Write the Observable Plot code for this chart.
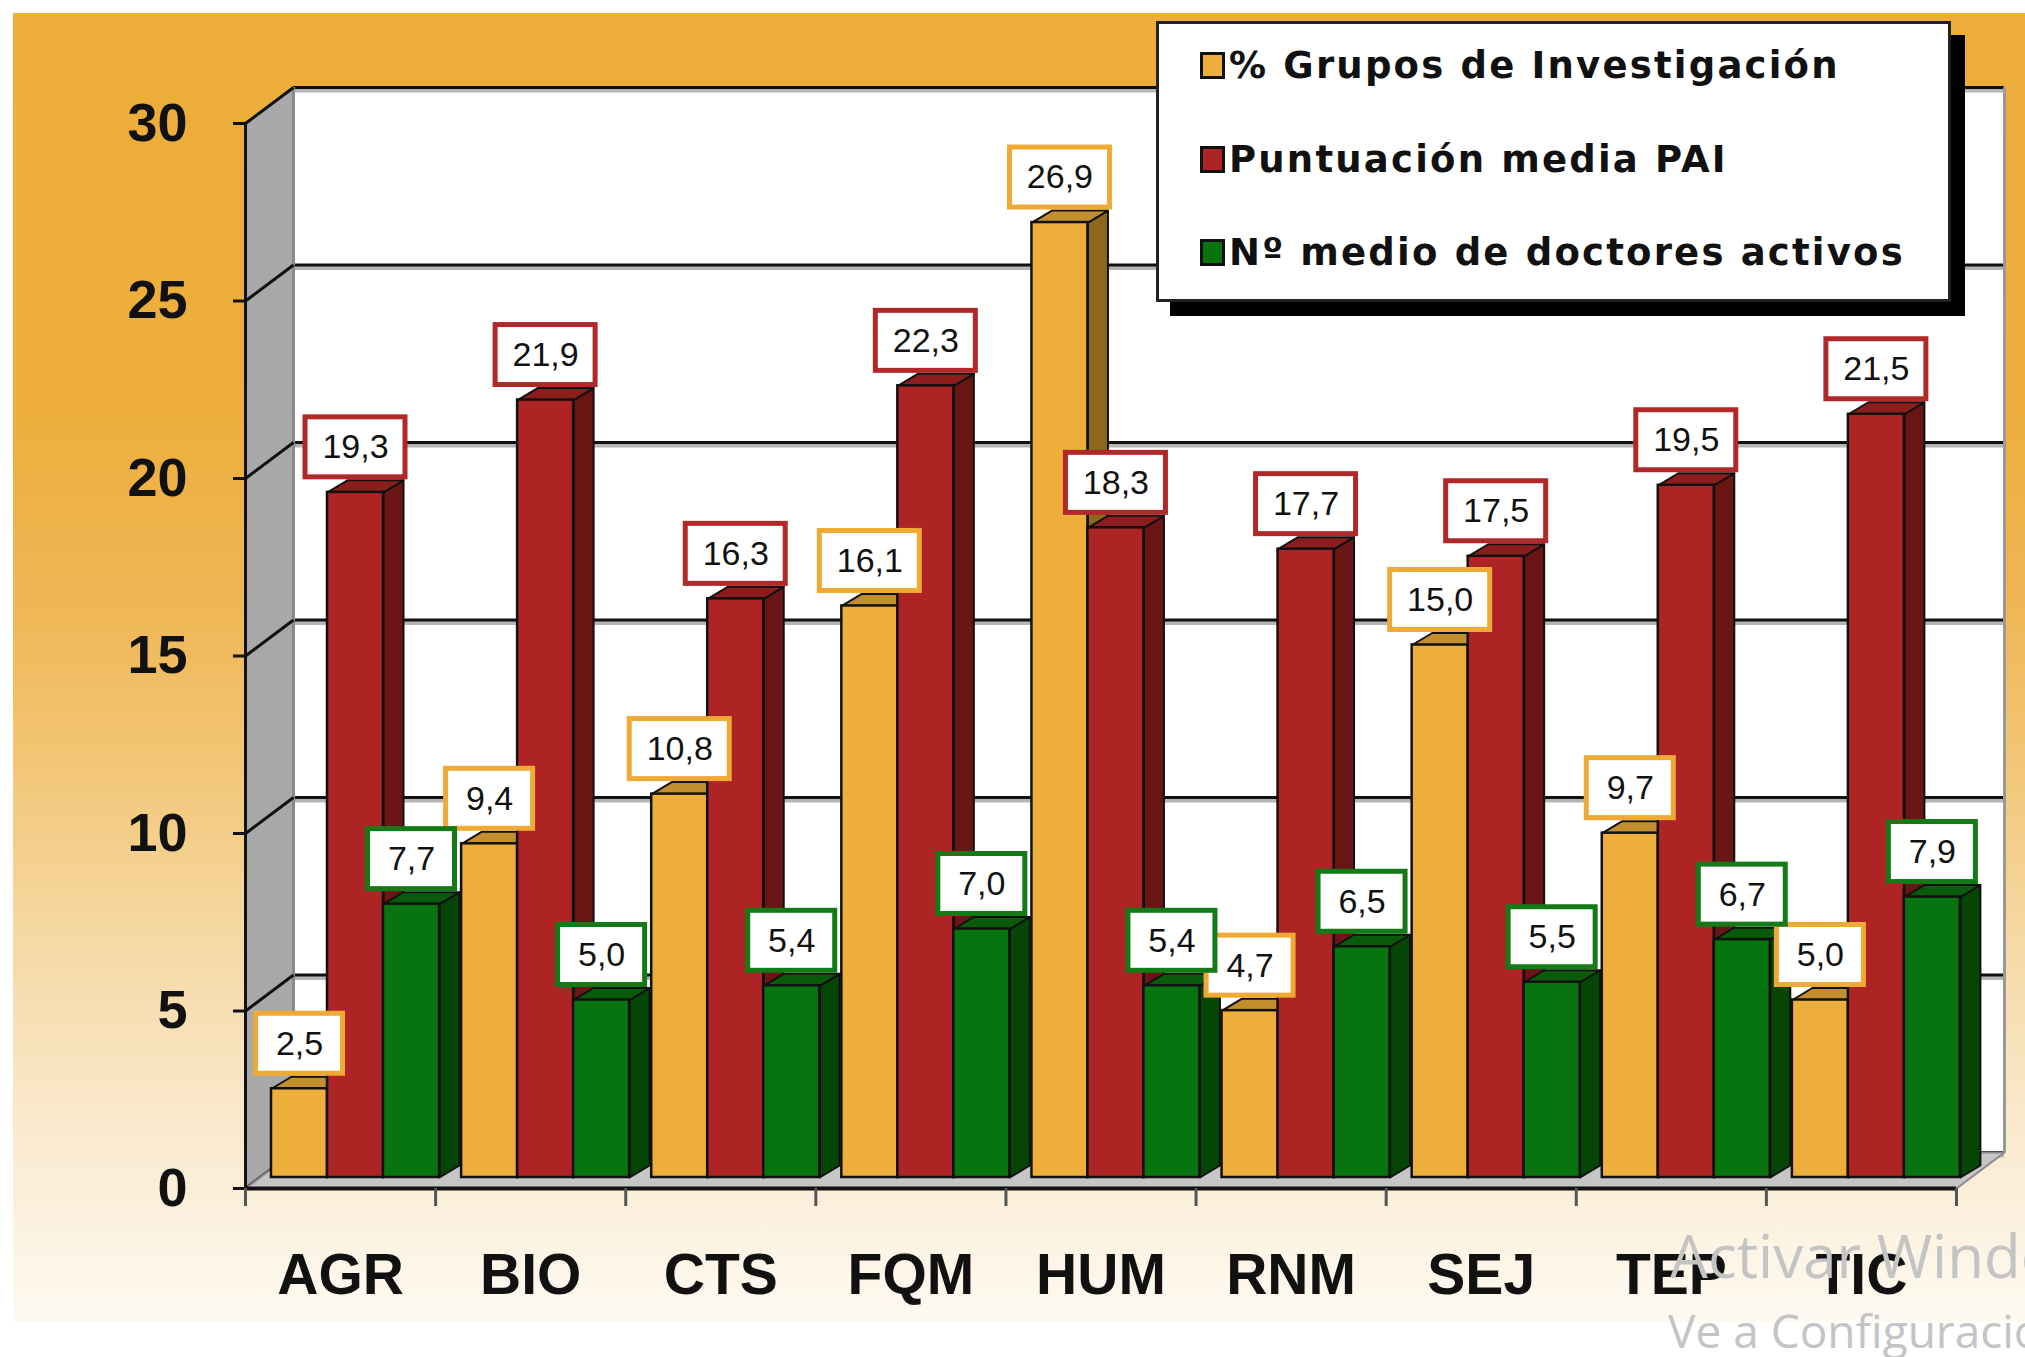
<!DOCTYPE html>
<html><head><meta charset="utf-8">
<script src="https://cdn.jsdelivr.net/npm/d3@7"></script>
<script src="https://cdn.jsdelivr.net/npm/@observablehq/plot@0.6"></script>
<style>
html,body{margin:0;padding:0;background:#fff;width:2025px;height:1357px;overflow:hidden;position:relative;}
#bg{position:absolute;left:13px;top:13px;width:2012px;height:1309px;
 background:linear-gradient(to bottom,#EDAD39 0%,#EDAE3C 30%,#EFB655 45%,#F2C36F 55%,#F5D59B 68%,#F9E7C8 83%,#FEFAF2 100%);}
#chart{position:absolute;left:0;top:0;}
#legend{position:absolute;left:1156px;top:21px;width:789px;height:275px;background:#fff;border:3px solid #222;
 box-shadow:14px 14px 0 #000;font-family:'DejaVu Sans',sans-serif;font-weight:bold;font-size:37px;letter-spacing:2.2px;color:#111;}
.row{position:absolute;left:41px;height:40px;display:flex;align-items:center;white-space:nowrap;}
.sw{width:19px;height:21px;border:3px solid #111;margin-right:4px;flex:none;}
.wm{position:absolute;white-space:nowrap;font-family:'Open Sans','Noto Sans',sans-serif;color:#c4c4c4;line-height:1;}
</style></head>
<body>
<div id="bg"></div>
<div id="chart"></div>
<div id="legend"></div>
<div class="wm" style="left:1670px;top:1225px;font-size:60px;">Activar Windows</div>
<div class="wm" style="left:1668px;top:1307px;font-size:46px;">Ve a Configuración para activar Windows.</div>
<script>
// ---- data ----
const categories = ["AGR","BIO","CTS","FQM","HUM","RNM","SEJ","TEP","TIC"];
const grupos = [2.5, 9.4, 10.8, 16.1, 26.9, 4.7, 15.0, 9.7, 5.0];
const pai = [19.3, 21.9, 16.3, 22.3, 18.3, 17.7, 17.5, 19.5, 21.5];
const doctores = [7.7, 5.0, 5.4, 7.0, 5.4, 6.5, 5.5, 6.7, 7.9];
const seriesNames = ["% Grupos de Investigación", "Puntuación media PAI", "Nº medio de doctores activos"];
const yTicks = [0, 5, 10, 15, 20, 25, 30];

// ---- styles ----
const frontC = ["#EEAE3B", "#AE2424", "#087410"];
const topC = ["#C38E2E", "#8C1D1D", "#0A5A0C"];
const sideC = ["#8E6818", "#6B1515", "#054606"];
const boxC = ["#EFA935", "#B02828", "#137A17"];

const W = 2025, H = 1357;
const mL = 245, mR = 69, mT = 123, mB = 169;
const pxG = (W - mL - mR) / categories.length; // px per group
const pxU = (H - mT - mB) / 30;               // px per unit
const gx = p => p / pxG, gy = p => p / pxU;

const WX = gx(48), WY = gy(36);        // wall depth
const BAR_START = gx(26), BAR_W = gx(56), BASE = gy(11);
const DX = gx(20), DY = gy(12);        // bar depth
const N = categories.length;

const seriesVals = [grupos, pai, doctores];
const bars = [];
seriesVals.forEach((vals, j) => vals.forEach((v, i) => {
  const x1 = i + BAR_START + j * BAR_W;
  const label = v.toFixed(1).replace(".", ",");
  bars.push({i, j, v, x1, x2: x1 + BAR_W, y1: BASE, y2: BASE + v, label,
    cx: x1 + BAR_W / 2, bw: gx(label.length > 3 ? 100 : 87)});
}));
const sidePts = [], topPts = [];
bars.forEach((b, k) => {
  [[b.x2,b.y1],[b.x2+DX,b.y1+DY],[b.x2+DX,b.y2+DY],[b.x2,b.y2],[b.x2,b.y1]]
    .forEach(([x,y]) => sidePts.push({id:k, j:b.j, x, y}));
  [[b.x1,b.y2],[b.x1+DX,b.y2+DY],[b.x2+DX,b.y2+DY],[b.x2,b.y2],[b.x1,b.y2]]
    .forEach(([x,y]) => topPts.push({id:k, j:b.j, x, y}));
});
const leftWall = [[0,0],[WX,WY],[WX,30+WY],[0,30],[0,0]].map(([x,y]) => ({x,y}));
const floor = [[0,0],[N,0],[N+WX,WY],[WX,WY],[0,0]].map(([x,y]) => ({x,y}));

const BOX_LO = gy(15), BOX_H = gy(60);

const marks = [
  Plot.rect([0], {x1: WX, x2: N + WX, y1: WY, y2: 30 + WY, fill: "white"}),
  Plot.ruleY(yTicks, {y: d => d + WY, x1: WX, x2: N + WX, dy: 3, stroke: "#b5b5b5", strokeWidth: 4}),
  Plot.ruleY(yTicks, {y: d => d + WY, x1: WX, x2: N + WX, stroke: "#111", strokeWidth: 3}),
  Plot.ruleX([N + WX], {y1: WY, y2: 30 + WY, stroke: "#999", strokeWidth: 3}),
  Plot.line(leftWall, {x: "x", y: "y", fill: "#A8A8A8", stroke: "none"}),
  Plot.ruleX([WX], {y1: WY, y2: 30 + WY, stroke: "#8a8a8a", strokeWidth: 3}),
  Plot.link(yTicks, {x1: 0, y1: d => d, x2: WX, y2: d => d + WY, stroke: "#111", strokeWidth: 3}),
  Plot.line(floor, {x: "x", y: "y", fill: "#C6C6C6", stroke: "#8a8a8a", strokeWidth: 2}),
  Plot.ruleX([0], {y1: 0, y2: 30, stroke: "#111", strokeWidth: 3}),
  Plot.ruleY([0], {x1: 0, x2: N, stroke: "#111", strokeWidth: 4}),
  Plot.ruleY(yTicks, {y: d => d, x1: gx(-12), x2: 0, stroke: "#111", strokeWidth: 3}),
  Plot.ruleX(d3.range(N + 1), {x: d => d, y1: 0, y2: gy(-18), stroke: "#555", strokeWidth: 3})
];
[0,1,2].forEach(j => {
  marks.push(
    Plot.line(sidePts.filter(d => d.j === j), {x: "x", y: "y", z: "id", fill: sideC[j], stroke: "#111", strokeWidth: 2}),
    Plot.line(topPts.filter(d => d.j === j), {x: "x", y: "y", z: "id", fill: topC[j], stroke: "#111", strokeWidth: 2}),
    Plot.rect(bars.filter(d => d.j === j), {x1: "x1", x2: "x2", y1: "y1", y2: "y2", fill: frontC[j], stroke: "#111", strokeWidth: 2.5})
  );
});
[0,1,2].forEach(j => {
  const bj = bars.filter(d => d.j === j);
  marks.push(
    Plot.rect(bj, {x1: d => d.cx - d.bw / 2, x2: d => d.cx + d.bw / 2, y1: d => d.y2 + BOX_LO, y2: d => d.y2 + BOX_LO + BOX_H,
      fill: "white", stroke: boxC[j], strokeWidth: 5}),
    Plot.text(bj, {x: "cx", y: d => d.y2 + BOX_LO + BOX_H / 2, text: "label", fontSize: 34, fontWeight: "normal", fill: "#111"})
  );
});
marks.push(
  Plot.axisY({ticks: yTicks, tickSize: 0, tickPadding: 58, fontSize: 54, fontWeight: "bold", fill: "#111"}),
  Plot.text(categories, {x: (d, i) => i + 0.5, y: 0, dy: 87, text: d => d, fontSize: 57, fontWeight: "bold", fill: "#111"})
);

const chart = Plot.plot({
  width: W, height: H,
  marginLeft: mL, marginRight: mR, marginTop: mT, marginBottom: mB,
  x: {type: "linear", domain: [0, N], axis: null},
  y: {type: "linear", domain: [0, 30], axis: null},
  style: {background: "transparent", fontFamily: "'Liberation Sans', Arial, sans-serif", overflow: "visible"},
  marks
});
document.getElementById("chart").append(chart);

// legend
const lg = document.getElementById("legend");
const rowTops = [21, 115, 208];
seriesNames.forEach((name, j) => {
  const r = document.createElement("div");
  r.className = "row";
  r.style.top = rowTops[j] + "px";
  const sw = document.createElement("div");
  sw.className = "sw";
  sw.style.background = frontC[j];
  const t = document.createElement("span");
  t.textContent = name;
  r.append(sw, t);
  lg.append(r);
});
</script>
</body></html>
